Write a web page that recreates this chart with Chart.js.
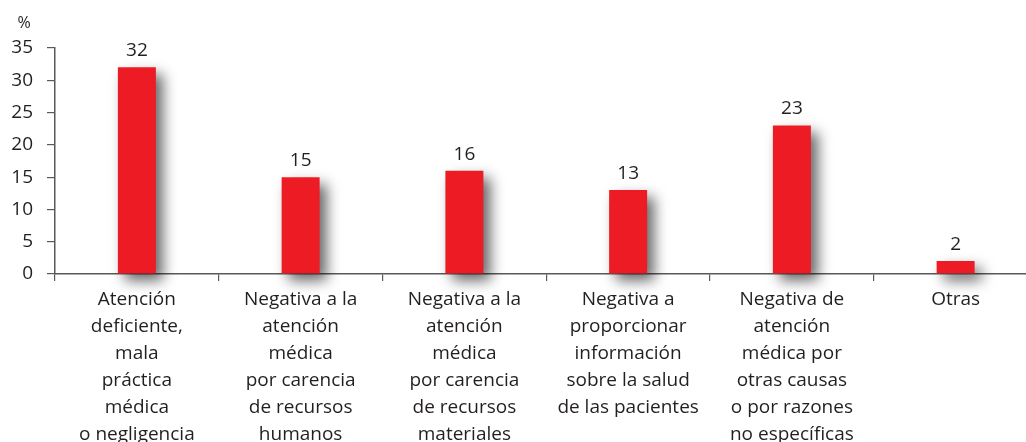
<!DOCTYPE html>
<html>
<head>
<meta charset="utf-8">
<script src="https://cdn.jsdelivr.net/npm/chart.js@4.4.1/dist/chart.umd.min.js"></script>
<style>
  html, body { margin: 0; padding: 0; background: #fff; overflow: hidden; }
  #wrap { width: 1040px; height: 442px; }
</style>
</head>
<body>
<div id="wrap"><canvas id="myChart" width="1040" height="442"></canvas></div>
<script>
const categories = [
  ['Atención', 'deficiente,', 'mala', 'práctica', 'médica', 'o negligencia'],
  ['Negativa a la', 'atención', 'médica', 'por carencia', 'de recursos', 'humanos'],
  ['Negativa a la', 'atención', 'médica', 'por carencia', 'de recursos', 'materiales'],
  ['Negativa a', 'proporcionar', 'información', 'sobre la salud', 'de las pacientes'],
  ['Negativa de', 'atención', 'médica por', 'otras causas', 'o por razones', 'no específicas'],
  ['Otras']
];
const values = [32, 15, 16, 13, 23, 2];
const yTicks = [0, 5, 10, 15, 20, 25, 30, 35];

const FONT = '"Open Sans", "Liberation Sans", sans-serif';
const ink = '#231f20';
const axisGray = '#58595b';

const extras = {
  id: 'extras',
  beforeDatasetsDraw(chart) {
    const c = chart.ctx;
    c.save();
    c.shadowColor = 'rgba(0,0,0,0.6)';
    c.shadowBlur = 14;
    c.shadowOffsetX = 7;
    c.shadowOffsetY = 7;
  },
  afterDatasetsDraw(chart) {
    const c = chart.ctx;
    c.restore();
    c.save();
    c.fillStyle = ink;
    c.font = '19px ' + FONT;
    c.textAlign = 'center';
    c.textBaseline = 'bottom';
    chart.getDatasetMeta(0).data.forEach((bar, i) => {
      c.fillText(String(values[i]), bar.x, bar.y - 7);
    });
    // unit label
    c.font = '16px ' + FONT;
    c.textBaseline = 'middle';
    c.fillText('%', 24, 23);
    c.restore();
  }
};

new Chart(document.getElementById('myChart'), {
  type: 'bar',
  data: {
    labels: categories,
    datasets: [{
      data: values,
      backgroundColor: '#ed1c24',
      borderWidth: 0,
      barPercentage: 1,
      categoryPercentage: 0.232,
      clip: false
    }]
  },
  options: {
    responsive: false,
    animation: false,
    layout: { padding: { top: 48, right: 2.5, left: 0, bottom: 0 } },
    plugins: {
      legend: { display: false },
      tooltip: { enabled: false }
    },
    scales: {
      x: {
        afterFit(scale) { scale.height = 168; },
        border: { color: axisGray, width: 1.5 },
        grid: {
          offset: true,
          drawOnChartArea: false,
          color: axisGray,
          tickLength: 7,
          lineWidth: 1.2
        },
        ticks: {
          color: ink,
          font: { family: FONT, size: 19, lineHeight: 1.42 },
          padding: 5,
          maxRotation: 0,
          autoSkip: false
        }
      },
      y: {
        min: 0,
        max: 35,
        afterFit(scale) { scale.width = 55; },
        afterBuildTicks(scale) { scale.ticks = yTicks.map(v => ({ value: v })); },
        border: { color: axisGray, width: 1.5 },
        grid: {
          drawOnChartArea: false,
          color: axisGray,
          tickLength: 8,
          lineWidth: 1.2
        },
        ticks: {
          color: ink,
          font: { family: FONT, size: 19 },
          padding: 14
        }
      }
    }
  },
  plugins: [extras]
});
</script>
</body>
</html>
